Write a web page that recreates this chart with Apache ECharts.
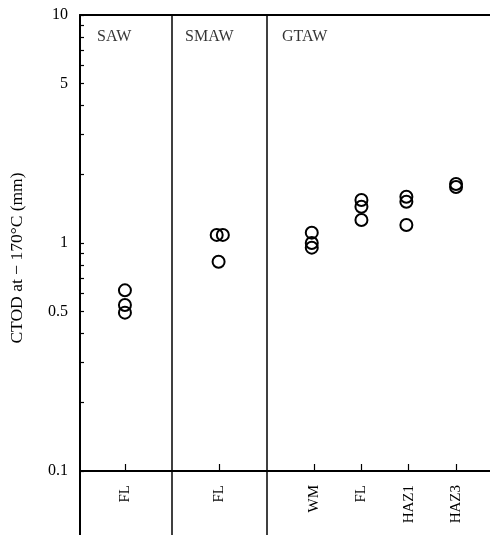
<!DOCTYPE html>
<html>
<head>
<meta charset="utf-8">
<script src="https://cdn.jsdelivr.net/npm/echarts@6/dist/echarts.min.js"></script>
<style>
  html, body { margin: 0; padding: 0; background: #fff; }
  #ctod-chart { width: 490px; height: 535px; }
</style>
</head>
<body>
<div id="ctod-chart"></div>
<script>
// 分类（横轴）
const categories = ["FL", "FL", "WM", "FL", "HAZ1", "HAZ3"];
const categoryX = [1, 3, 5, 6, 7, 8];
// 焊接工艺分组
const groups = ["SAW", "SMAW", "GTAW"];
const separatorX = [2, 4];
// 每个圆点的横向位置和 CTOD 值 (mm)
const pointX = [1, 1, 1, 2.94, 3.07, 2.98, 4.95, 4.95, 4.95, 6, 6, 6, 6.95, 6.95, 6.95, 8, 8];
const ctod = [0.62, 0.535, 0.495, 1.085, 1.085, 0.828, 1.11, 1.0, 0.954, 1.544, 1.443, 1.261, 1.596, 1.517, 1.2, 1.815, 1.76];
// 纵轴刻度
const yLabels = [0.1, 0.5, 1, 5, 10];
const yTicks = [0.1, 0.2, 0.3, 0.4, 0.5, 0.6, 0.7, 0.8, 0.9, 1, 2, 3, 4, 5, 6, 7, 8, 9, 10];

const font = "Liberation Serif";
const chart = echarts.init(document.getElementById("ctod-chart"));

const groupLabelX = [0.41, 2.27, 4.32];

const option = {
  backgroundColor: "#fff",
  animation: false,
  grid: { left: 80, right: 0, top: 15, bottom: 0 },
  xAxis: [
    {
      type: "value",
      min: 0.05,
      max: 8.718,
      position: "bottom",
      offset: -64,
      splitLine: { show: false },
      axisLine: { lineStyle: { color: "#000", width: 2 } },
      axisTick: {
        inside: true,
        length: 7,
        customValues: categoryX,
        lineStyle: { color: "#000", width: 1.2 },
      },
      axisLabel: {
        customValues: categoryX,
        rotate: 90,
        margin: 14,
        fontFamily: font,
        fontSize: 15,
        color: "#000",
        formatter: function (v) {
          const i = categoryX.indexOf(Math.round(v));
          return i >= 0 ? categories[i] : "";
        },
      },
    },
    {
      type: "value",
      min: 0.05,
      max: 8.718,
      position: "top",
      splitLine: { show: false },
      axisLine: { lineStyle: { color: "#000", width: 2 } },
      axisTick: { show: false },
      axisLabel: { show: false },
    },
  ],
  yAxis: {
    type: "log",
    logBase: 10,
    min: 0.0524,
    max: 10,
    name: "CTOD at \u2212 170\u00b0C (mm)",
    nameLocation: "middle",
    nameGap: 54,
    nameTextStyle: {
      fontFamily: font,
      fontSize: 17.5,
      color: "#000",
      padding: [0, 0, 0, 34],
    },
    splitLine: { show: false },
    axisLine: { lineStyle: { color: "#000", width: 2 } },
    axisTick: {
      inside: true,
      length: 4,
      customValues: yTicks,
      lineStyle: { color: "#000", width: 1.2 },
    },
    axisLabel: {
      customValues: yLabels,
      margin: 12,
      fontFamily: font,
      fontSize: 16,
      color: "#000",
      formatter: function (v) {
        return String(parseFloat(Number(v).toPrecision(3)));
      },
    },
  },
  series: [
    {
      type: "scatter",
      symbol: "circle",
      symbolSize: 12,
      itemStyle: {
        color: "rgba(0,0,0,0)",
        borderColor: "#000",
        borderWidth: 2,
        opacity: 1,
      },
      data: pointX.map(function (x, i) {
        return [x, ctod[i]];
      }),
      markLine: {
        silent: true,
        symbol: "none",
        label: { show: false },
        lineStyle: { color: "#000", width: 1.5, type: "solid" },
        data: separatorX.map(function (x) {
          return { xAxis: x };
        }),
      },
    },
    {
      type: "scatter",
      symbolSize: 0,
      silent: true,
      label: {
        show: true,
        position: "right",
        distance: 0,
        formatter: "{b}",
        fontFamily: font,
        fontSize: 16,
        color: "#000",
      },
      data: groups.map(function (g, i) {
        return { name: g, value: [groupLabelX[i], 8] };
      }),
    },
  ],
};
chart.setOption(option);
</script>
</body>
</html>
